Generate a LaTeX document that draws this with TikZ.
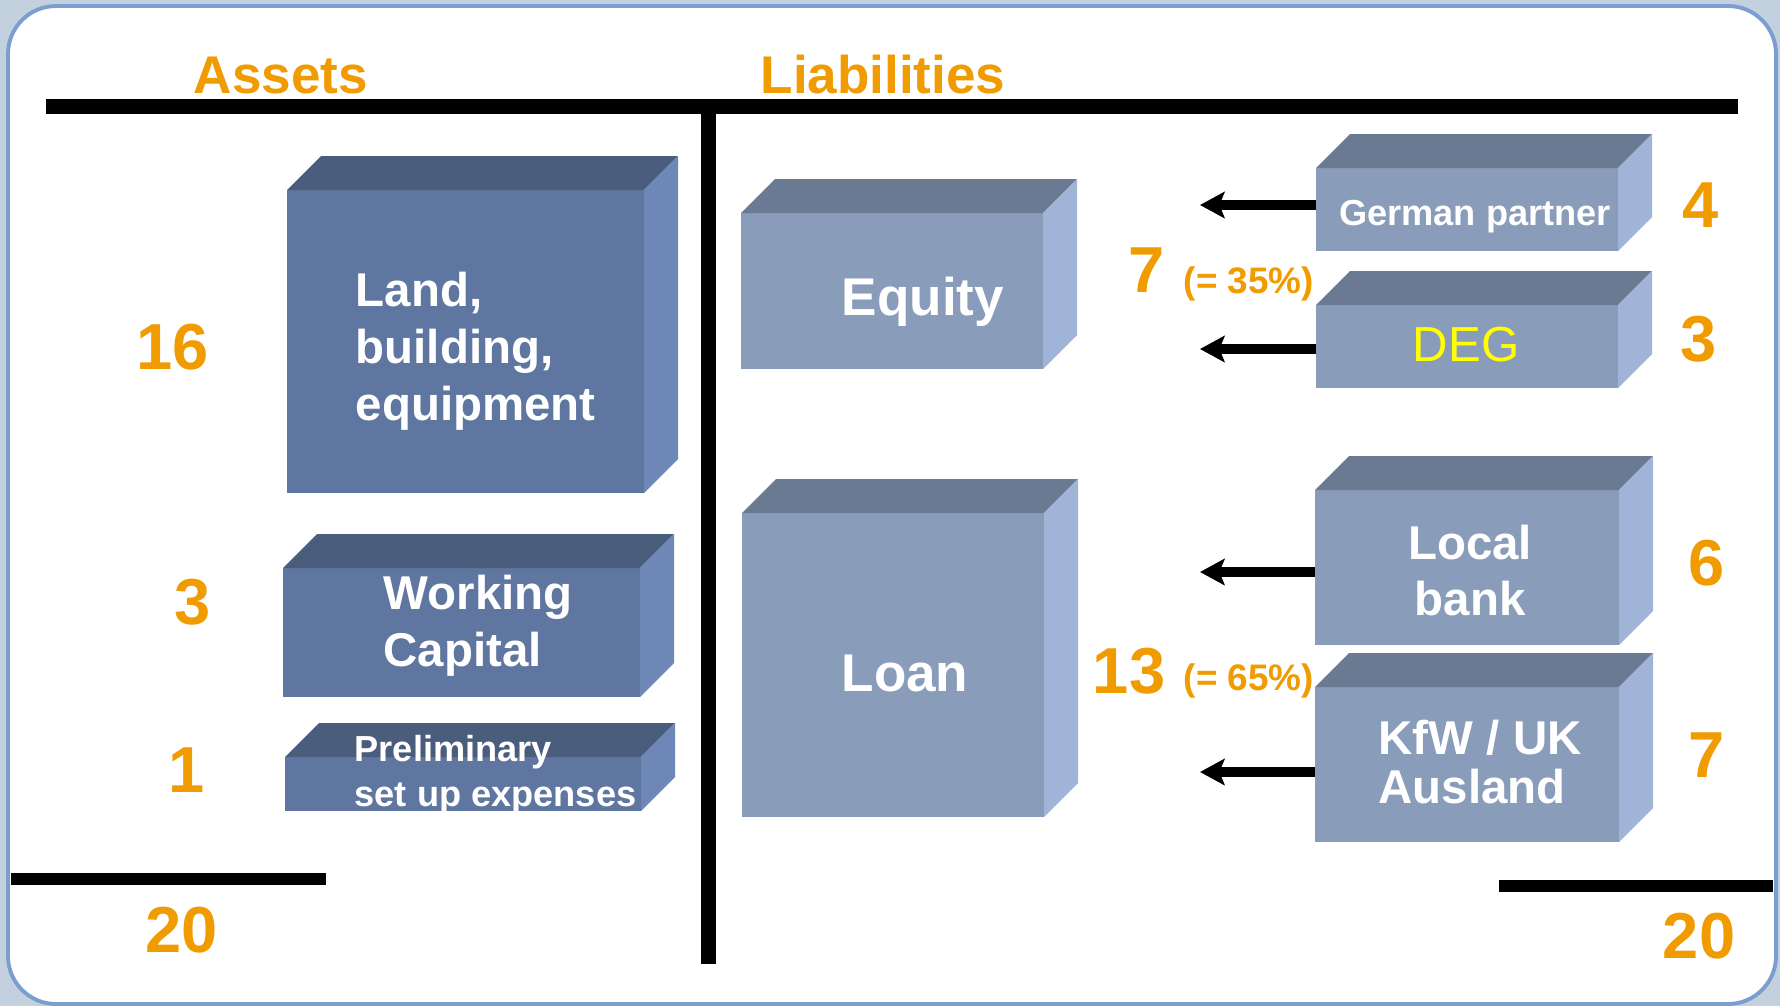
\documentclass[tikz,border=0pt]{standalone}
\usepackage{fontspec}
\setmainfont{Liberation Sans}
\usetikzlibrary{arrows.meta,positioning}

\definecolor{pagebg}{HTML}{C3D0DE}
\definecolor{frameline}{HTML}{7B9DCF}
\definecolor{amountorange}{HTML}{F09B00}
\definecolor{degyellow}{HTML}{FFFF00}
\definecolor{assetfront}{HTML}{5F76A0}
\definecolor{assettop}{HTML}{4A5D7D}
\definecolor{assetside}{HTML}{6D88B6}
\definecolor{liabfront}{HTML}{899CBA}
\definecolor{liabtop}{HTML}{6A7A92}
\definecolor{liabside}{HTML}{9FB4D7}

\tikzset{
    face/.style={rectangle, inner sep=0pt, outer sep=0pt},
    assetface/.style={face, fill=assetfront},
    liabface/.style={face, fill=liabfront},
    boxtext/.style={text=white, inner sep=0pt, font=\bfseries\fontsize{13.5}{16.2}\selectfont},
    heading/.style={text=amountorange, inner sep=0pt, anchor=base, font=\bfseries\fontsize{15.1}{18}\selectfont},
    amount/.style={text=amountorange, inner sep=0pt, anchor=base, font=\bfseries\fontsize{18.5}{22}\selectfont},
    share/.style={text=amountorange, inner sep=0pt, anchor=base west, font=\bfseries\fontsize{10.5}{12.5}\selectfont},
    flow/.style={line width=2.6pt, -{Stealth[length=7pt,width=7.5pt,inset=1.5pt]}}
}

% top and right faces of a block
\newcommand{\boxsides}[3]{%
    \fill[#2] (#1.north west) -- ++(34,-34) -- ([shift={(34,-34)}]#1.north east) -- (#1.north east) -- cycle;
    \fill[#3] (#1.north east) -- ++(34,-34) -- ([shift={(34,-34)}]#1.south east) -- (#1.south east) -- cycle;
}

\begin{document}
\begin{tikzpicture}[x=0.1mm, y=-0.1mm]
    \useasboundingbox (0,0) rectangle (1780,1006);
    \fill[pagebg] (0,0) rectangle (1780,1006);
    \draw[frameline, fill=white, line width=1.1pt, rounded corners=4.8mm] (8,6) rectangle (1776,1004);

    % T-account lines
    \fill (46,99) rectangle (1738,114);
    \fill (701,114) rectangle (716,964);
    \fill (11,873) rectangle (326,885);
    \fill (1499,880) rectangle (1773,892);

    \node[heading] (assets) at (281,93) {Assets};
    \node[heading] (liabilities) at (883,93) {Liabilities};

    % Assets side
    \node[assetface, minimum width=35.7mm, minimum height=30.3mm] (land) at (465.5,341.5) {};
    \boxsides{land}{assettop}{assetside}
    \node[assetface, minimum width=35.7mm, minimum height=12.9mm] (wc) at (461.5,632.5) {};
    \boxsides{wc}{assettop}{assetside}
    \node[assetface, minimum width=35.6mm, minimum height=5.4mm] (prelim) at (463,784) {};
    \boxsides{prelim}{assettop}{assetside}

    \node[boxtext, align=left, anchor=west] (landtxt) at (355,351.5) {Land,\\building,\\equipment};
    \node[boxtext, align=left, anchor=west] (wctxt) at (383,625.5) {Working\\Capital};
    \node[boxtext, align=left, anchor=west, font=\bfseries\fontsize{10.3}{12.8}\selectfont] (prelimtxt) at (354,775) {Preliminary\\set up expenses};

    \node[amount] (n16) at (173,369) {16};
    \node[amount] (n3a) at (193,624) {3};
    \node[amount] (n1) at (187,792) {1};
    \node[amount] (n20a) at (182,952) {20};

    % Liabilities side
    \node[liabface, minimum width=30.2mm, minimum height=15.6mm] (equity) at (892,291) {};
    \boxsides{equity}{liabtop}{liabside}
    \node[liabface, minimum width=30.2mm, minimum height=30.4mm] (loan) at (893,665) {};
    \boxsides{loan}{liabtop}{liabside}

    \node[boxtext, anchor=base, font=\bfseries\fontsize{15.1}{18}\selectfont] (eqtxt) at (923,315) {Equity};
    \node[boxtext, anchor=base, font=\bfseries\fontsize{15.1}{18}\selectfont] (loantxt) at (905,691) {Loan};

    \node[amount] (n7a) at (1147,292) {7};
    \node[share] (p35) at (1183,293) {(= 35\%)};
    \node[amount] (n13) at (1129,693) {13};
    \node[share] (p65) at (1183,690) {(= 65\%)};

    % Sources
    \node[liabface, minimum width=30.2mm, minimum height=8.3mm] (gp) at (1467,209.5) {};
    \boxsides{gp}{liabtop}{liabside}
    \node[liabface, minimum width=30.2mm, minimum height=8.3mm, below=5.4mm of gp] (deg) {};
    \boxsides{deg}{liabtop}{liabside}
    \node[liabface, minimum width=30.4mm, minimum height=15.5mm] (lb) at (1467,567.5) {};
    \boxsides{lb}{liabtop}{liabside}
    \node[liabface, minimum width=30.4mm, minimum height=15.5mm, below=4.2mm of lb] (kfw) {};
    \boxsides{kfw}{liabtop}{liabside}

    \node[boxtext, anchor=base, font=\bfseries\fontsize{10.3}{12.4}\selectfont] (gptxt) at (1475,225) {German partner};
    \node[text=degyellow, inner sep=0pt, anchor=base, font=\fontsize{14}{17}\selectfont] (degtxt) at (1466,361) {DEG};
    \node[boxtext, align=center] (lbtxt) at (1470,570.5) {Local\\bank};
    \node[boxtext, align=left, anchor=west, font=\bfseries\fontsize{13.5}{14}\selectfont] (kfwtxt) at (1378,762) {KfW / UK\\Ausland};

    \node[amount] (n4) at (1701,227) {4};
    \node[amount] (n3b) at (1699,361) {3};
    \node[amount] (n6) at (1707,585) {6};
    \node[amount] (n7b) at (1707,777) {7};
    \node[amount] (n20b) at (1699,958) {20};

    % Flows
    \coordinate (gptip) at (1200,205);
    \coordinate (degtip) at (1200,349);
    \coordinate (lbtip) at (1200,572);
    \coordinate (kfwtip) at (1200,772);
    \draw[flow] (gp.west |- gptip) -- (gptip);
    \draw[flow] (deg.west |- degtip) -- (degtip);
    \draw[flow] (lb.west |- lbtip) -- (lbtip);
    \draw[flow] (kfw.west |- kfwtip) -- (kfwtip);
\end{tikzpicture}
\end{document}
